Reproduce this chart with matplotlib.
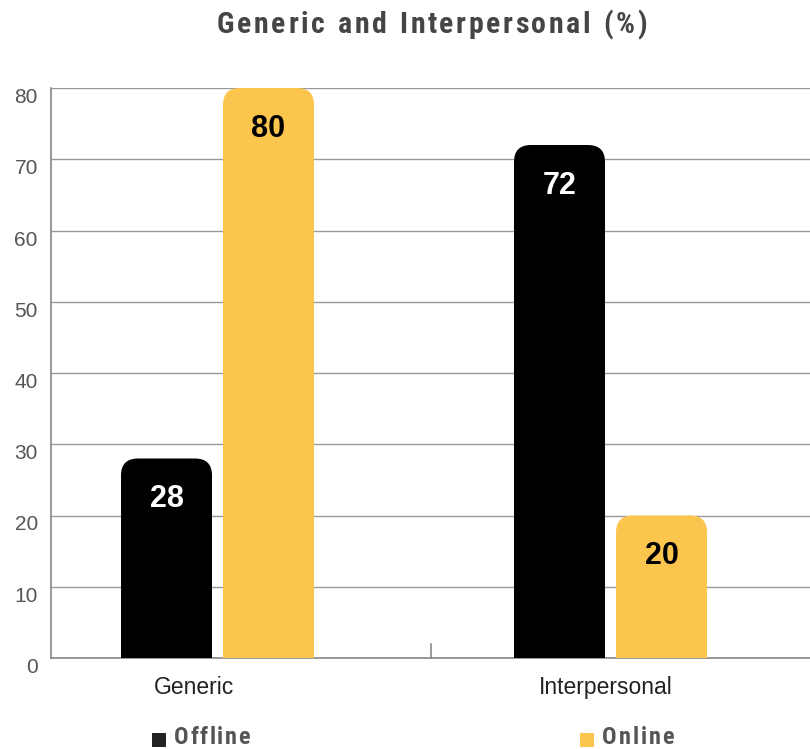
import matplotlib
matplotlib.use("Agg")
import matplotlib.pyplot as plt
from matplotlib.patches import FancyBboxPatch, Rectangle
from matplotlib import font_manager as fm
from matplotlib.transforms import ScaledTranslation
import numpy as np

categories = ["Generic", "Interpersonal"]
series_names = ["Offline", "Online"]
offline = [28, 72]
online = [80, 20]
yticks = [0, 10, 20, 30, 40, 50, 60, 70, 80]

colors = {"Offline": "#000000", "Online": "#FCC54E"}
label_colors = {"Offline": "white", "Online": "black"}

names = {f.name for f in fm.fontManager.ttflist}
body = "Liberation Sans" if "Liberation Sans" in names else "DejaVu Sans"

cands = []
for f in fm.fontManager.ttflist:
    fn = f.fname.lower()
    if ("condensed" in fn or "narrow" in fn) and ("bold" in fn) and "oblique" not in fn and "italic" not in fn:
        cands.append(f.fname)
pref = [c for c in cands if "liberation" in c.lower()] + [c for c in cands if "roboto" in c.lower()] + \
       [c for c in cands if "opensans" in c.lower().replace(" ", "")] + [c for c in cands if "dejavu" in c.lower()] + cands
if pref:
    cond_fp = fm.FontProperties(fname=pref[0])
else:
    cond_fp = fm.FontProperties(family=body, weight="bold")

W, H = 810, 749
fig = plt.figure(figsize=(W / 100, H / 100), dpi=100)
ax = fig.add_axes([51 / W, (H - 658) / H, 1 - 51 / W, (658 - 88) / H])

x = np.arange(len(categories))
width = 0.2316
offset = 0.1298
xmin, xmax = -0.4237, 1.5076
ax.set_xlim(xmin, xmax)
ax.set_ylim(0, 80)

px_per_x = (W - 51) / (xmax - xmin)
px_per_y = (658 - 88) / 80.0
radius_px = 17
r_x = radius_px / px_per_x
aspect = px_per_x / px_per_y

for vals, name, sign in [(offline, "Offline", -1), (online, "Online", 1)]:
    bars = ax.bar(x + sign * offset, vals, width, color=colors[name], zorder=3)
    for b, v in zip(bars, vals):
        b.set_visible(False)
        bx, bw = b.get_x(), b.get_width()
        ax.add_patch(FancyBboxPatch((bx, 0), bw, v,
                                    boxstyle=f"round,pad=0,rounding_size={r_x}",
                                    mutation_aspect=aspect,
                                    fc=colors[name], ec="none", zorder=3))
        ax.add_patch(Rectangle((bx, 0), bw, v / 2, fc=colors[name], ec="none", zorder=3))
        ax.annotate(str(v), (bx + bw / 2, v), xytext=(0, -29.5), textcoords="offset points",
                    ha="center", va="center", fontsize=22, fontweight="bold",
                    color=label_colors[name], family=body, zorder=4)

ax.set_yticks(yticks)
ax.set_yticklabels([str(t) for t in yticks], fontsize=15, color="#555555", family=body)
ax.set_xticks(x)
ax.set_xticklabels(categories, fontsize=16.5, color="#222222", family=body)
ax.tick_params(axis="x", length=0, pad=13)
ax.tick_params(axis="y", length=0, pad=9.5)
for lab in ax.get_yticklabels():
    lab.set_verticalalignment("top")
for lab, dx in zip(ax.get_xticklabels(), [-24, -4.5]):
    lab.set_transform(lab.get_transform() + ScaledTranslation(dx / 100, 0, fig.dpi_scale_trans))
ax.grid(axis="y", color="#999999", linewidth=1, zorder=0)
ax.set_axisbelow(True)
for s in ["top", "right"]:
    ax.spines[s].set_visible(False)
for s in ["left", "bottom"]:
    ax.spines[s].set_color("#888888")
    ax.spines[s].set_linewidth(1.2)
ax.plot([0.543, 0.543], [0, 14 / px_per_y], color="#888888", lw=1.2, zorder=2, clip_on=False)

fig.canvas.draw()
renderer = fig.canvas.get_renderer()


def measure(s, fp, size):
    widths = []
    for ch in s:
        t = fig.text(0, 0, ch if ch != " " else "n", fontproperties=fp, fontsize=size)
        w = t.get_window_extent(renderer).width
        if ch == " ":
            w *= 0.55
        widths.append(w)
        t.remove()
    return widths


def spaced_text(x_px, y_px, s, target_w, fp, size, ha="center", **kw):
    widths = measure(s, fp, size)
    spacing = max(0.0, (target_w - sum(widths)) / (len(s) - 1))
    total = sum(widths) + spacing * (len(s) - 1)
    start = x_px - total / 2 if ha == "center" else x_px
    cur = start
    for ch, w in zip(s, widths):
        if ch != " ":
            fig.text(cur / W, 1 - y_px / H, ch, ha="left", va="center",
                     fontproperties=fp, fontsize=size, **kw)
        cur += w + spacing


spaced_text(432, 25, "Generic and Interpersonal (%)", 430, cond_fp, 21.5, color="#454545")

for name, sx in [("Offline", 152), ("Online", 580)]:
    fig.patches.append(Rectangle((sx / W, 1 - 747 / H), 14 / W, 14 / H,
                                 transform=fig.transFigure,
                                 fc=colors[name] if name == "Online" else "#222222", ec="none"))
    spaced_text(sx + 22, 737, name, 76 if name == "Offline" else 72, cond_fp, 17.5,
                ha="left", color="#555555")

fig.savefig("out.png", dpi=100)
